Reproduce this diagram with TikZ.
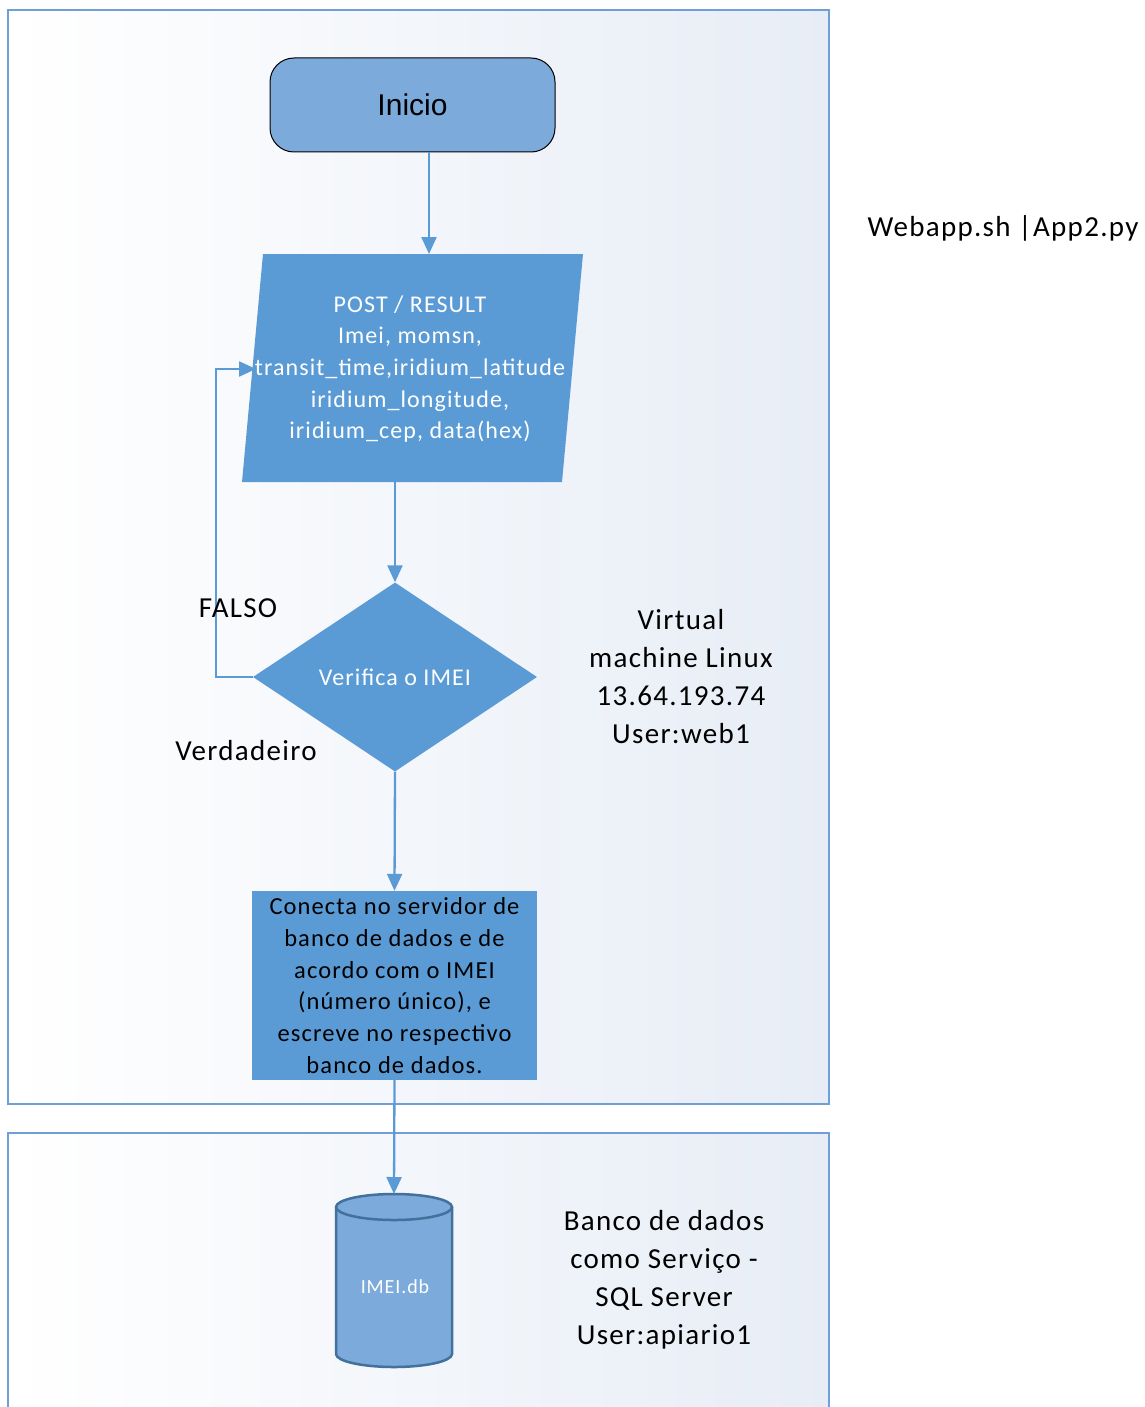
\documentclass[tikz,border=0pt]{standalone}
\usepackage{fontspec}
\setmainfont[LetterSpace=4.5]{Carlito}
\newfontfamily\arialfont{Liberation Sans}
\usetikzlibrary{arrows.meta,shapes.geometric}

\definecolor{blueA}{HTML}{5B9BD5}
\definecolor{blueL}{HTML}{7BAADB}
\definecolor{blueD}{HTML}{41719C}
\definecolor{frameC}{HTML}{6F9FD6}
\definecolor{paneR}{HTML}{E7EDF6}

\begin{document}
\begin{tikzpicture}[x=1pt,y=-1pt,
  conn/.style={draw=blueA, line width=2.3pt, -{Triangle[width=15pt,length=17pt]}},
  pane/.style={draw=frameC, line width=1.6pt, left color=white, right color=paneR},
  flowbox/.style={fill=blueA, inner sep=0pt, align=center},
  sidetext/.style={align=center, font=\fontsize{29}{38}\selectfont},
  branch/.style={font=\fontsize{29}{34}\selectfont}
]
\useasboundingbox (0,0) rectangle (1144,1407);
\clip (0,0) rectangle (1144,1407);
\fill[white] (0,0) rectangle (1144,1407);

% two environment panes
\path[pane] (8,10) rectangle (829,1104);
\path[pane] (8,1133) rectangle (829,1440);

% start
\node[draw=black, line width=1pt, rounded corners=24pt, fill=blueL,
      minimum width=285pt, minimum height=94pt,
      font=\arialfont\fontsize{30}{34}\selectfont] (inicio) at (412.5,105) {Inicio};

% input parallelogram
\path[fill=blueA] (263,254) -- (583,254) -- (562,482) -- (242,482) -- cycle;
\coordinate (posttop) at (429,254);
\coordinate (postbot) at (395,482);
\coordinate (postleft) at (256,369);
\node[align=center, text=white, font=\fontsize{24}{31.7}\selectfont] (post) at (410,369)
  {POST / RESULT\\Imei, momsn,\\transit\_time,iridium\_latitude\\iridium\_longitude,\\iridium\_cep, data(hex)};

% decision
\node[diamond, fill=blueA, minimum width=284pt, minimum height=189pt, inner sep=0pt,
      text=white, font=\fontsize{24}{28}\selectfont] (check) at (395,677) {Verifica o IMEI};

% write step
\node[flowbox, minimum width=285pt, minimum height=189pt,
      font=\fontsize{24.5}{31.7}\selectfont] (write) at (394.5,985.5)
  {Conecta no servidor de\\banco de dados e de\\acordo com o IMEI\\(número único), e\\escreve no respectivo\\banco de dados.};

% database cylinder
\path[fill=blueL, draw=blueD, line width=2.5pt]
  (336,1207) -- (336,1354) arc[start angle=180, end angle=0, x radius=58, y radius=13]
  -- (452,1207) arc[start angle=360, end angle=180, x radius=58, y radius=13] -- cycle;
\draw[blueD, line width=2.5pt] (336,1207) arc[start angle=180, end angle=0, x radius=58, y radius=13];
\coordinate (dbtop) at (394,1194);
\node[text=white, font=\fontsize{20}{24}\selectfont] (db) at (395,1287) {IMEI.db};

% connectors
\draw[conn] (inicio.south -| posttop) -- (posttop);
\draw[conn] (postbot) -- (check.north);
\draw[conn] (check.west) -- ++(-37,0) |- (postleft);
\draw[conn] (check.south) -- (write.north);
\draw[conn] (write.south) -- (dbtop);

% branch labels
\node[branch] (falso) at (238,608) {FALSO};
\node[branch] (verd) at (246,751) {Verdadeiro};

% side descriptions
\node[sidetext] (vm) at (681,677) {Virtual\\machine Linux\\13.64.193.74\\User:web1};
\node[sidetext] (dbsvc) at (664,1280) {Banco de dados\\como Serviço -\\SQL Server\\User:apiario1};
\node[font=\fontsize{29}{34}\selectfont] (app) at (1003,228) {Webapp.sh |App2.py};
\end{tikzpicture}
\end{document}
